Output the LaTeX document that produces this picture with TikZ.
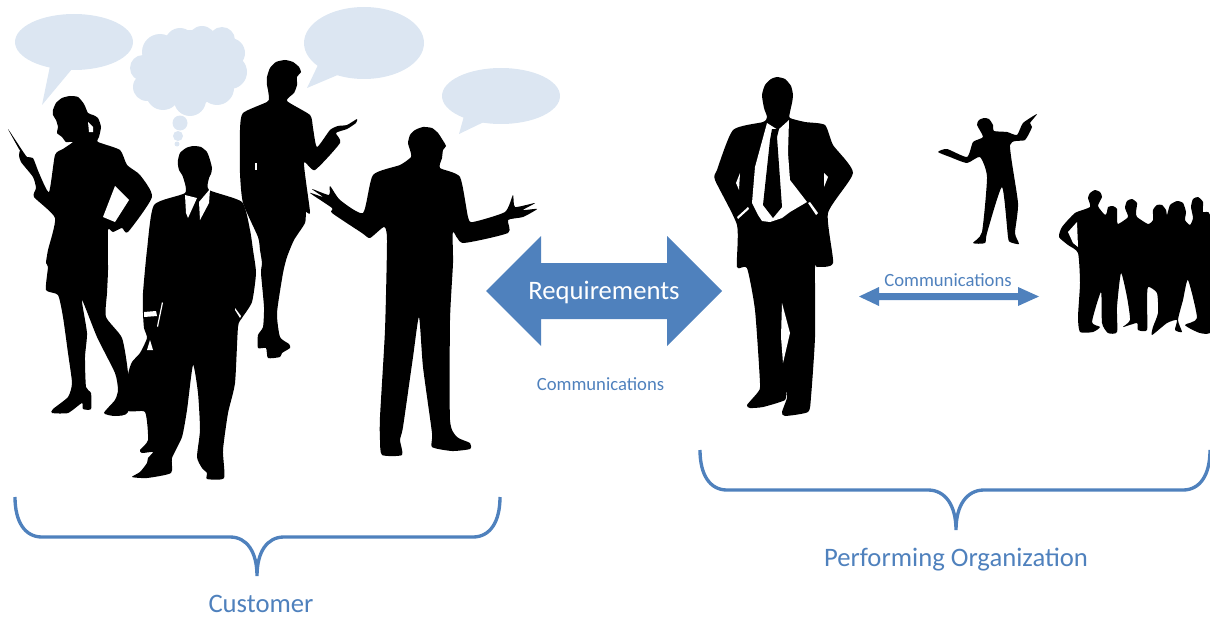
\documentclass[tikz,border=0pt]{standalone}
\usepackage{fontspec}
\setmainfont{Carlito}
\definecolor{bubble}{HTML}{DCE6F2}
\definecolor{accent}{HTML}{4F81BD}
\tikzset{
  gap/.style={fill=white,draw=none},
  talk/.style={fill=bubble,draw=none},
  bracket/.style={draw=accent,line width=2.5pt,fill=none},
  lbl/.style={text=accent,inner sep=0pt,anchor=center},
}
\newcommand{\silh}[1]{\fill[black] plot[smooth cycle,tension=0.35] coordinates {#1};}
\begin{document}
\begin{tikzpicture}[x=0.75pt,y=-0.75pt]
\useasboundingbox (0,0) rectangle (1210,617);
% speech bubbles
\fill[talk] (74,42) ellipse [x radius=59,y radius=28];
\fill[talk] (50,66) -- (42,105) -- (72,69) -- cycle;
\fill[talk] (364,43) ellipse [x radius=60,y radius=36];
\fill[talk] (318,65) -- (307,88) -- (340,74) -- cycle;
\fill[talk] (501,96) ellipse [x radius=59,y radius=28];
\fill[talk] (464,116) -- (459,134) -- (486,121) -- cycle;
% thought cloud
\foreach \cx/\cy/\r in {160/52/18,180/43/15,202/40/14,222/40/13,230/53/15,230/72/17,217/88/17,190/100/16,163/93/17,147/87/14,143/68/13,190/68/38,170/70/27,212/68/27,180/123/7.5,178/136/5,177/144/2.5}
  \fill[talk] (\cx,\cy) circle [radius=\r];
% woman at the back
\silh{(267,77) (270,68) (276,62) (285,60) (293,62) (299,67) (301,72) (297,77) (297,85) (294,93) (287,101) (310,115) (313,128) (317,147) (330,130) (338,126) (347,125) (357,119) (356,123) (347,129) (336,133) (340,143) (315,170) (304,163) (310,212) (306,212) (305,223) (294,240) (287,257) (283,273) (277,313) (280,337) (289,344) (290,348) (282,353) (280,357) (268,358) (266,348) (258,348) (258,335) (263,327) (264,307) (261,273) (262,263) (260,250) (258,237) (243,203) (240,173) (240,130) (243,113) (267,102) (269,98) (268,90) (267,85)}
% woman with phone
\silh{(8,129) (20,147) (27,157) (33,158) (39,173) (49,192) (55,155) (63,149) (73,142) (66,142) (62,137) (57,133) (58,127) (56,120) (53,115) (53,110) (56,103) (62,98) (70,96) (78,97) (84,104) (88,113) (93,115) (98,118) (101,127) (99,137) (98,142) (120,150) (127,165) (140,175) (152,197) (128,232) (122,228) (113,232) (108,230) (108,270) (107,293) (106,317) (122,338) (128,373) (128,412) (115,416) (104,413) (115,400) (118,390) (115,373) (97,337) (82,300) (87,333) (85,357) (86,387) (91,393) (91,409) (83,409) (82,403) (68,413) (52,413) (53,409) (68,397) (72,383) (68,353) (63,317) (58,295) (46,290) (48,267) (46,263) (48,250) (55,218) (34,197) (36,188) (33,177) (21,162) (19,155) (20,150) (19,149)}
% man with briefcase
\silh{(178,160) (180,153) (186,148) (193,146) (201,147) (207,152) (210,160) (212,168) (211,174) (209,178) (209,190) (242,202) (250,230) (253,250) (256,273) (252,302) (242,318) (238,327) (235,383) (228,413) (223,450) (224,478) (207,479) (207,473) (202,468) (197,457) (200,430) (198,393) (193,365) (187,410) (182,437) (172,458) (171,473) (147,478) (132,477) (140,472) (147,463) (148,458) (153,452) (142,453) (140,450) (148,440) (145,412) (127,410) (128,375) (132,362) (140,353) (147,338) (144,328) (143,313) (143,293) (147,250) (154,205) (185,193) (183,177) (179,170) (178,165)}
% gesturing man
\silh{(408,143) (410,135) (415,130) (423,127) (432,128) (438,133) (442,139) (446,146) (443,150) (442,158) (440,168) (460,177) (468,217) (473,222) (505,212) (513,195) (515,207) (535,203) (523,210) (537,209) (523,217) (508,220) (508,233) (463,243) (453,232) (453,263) (450,320) (450,420) (457,437) (470,443) (470,449) (452,451) (432,447) (432,433) (423,367) (419,317) (413,357) (403,427) (400,440) (402,455) (382,455) (380,440) (380,417) (385,330) (387,240) (384,227) (370,238) (362,233) (332,213) (332,208) (310,193) (323,197) (312,189) (329,195) (330,186) (340,200) (363,213) (373,175) (400,165) (411,157) (410,150)}
% manager
\silh{(762,95) (765,85) (771,79) (777,77) (785,79) (791,86) (793,95) (792,103) (790,112) (790,118) (805,122) (825,125) (833,145) (853,173) (828,213) (833,263) (817,267) (815,267) (815,337) (811,397) (808,412) (785,416) (782,412) (787,398) (786,390) (785,400) (763,407) (750,408) (747,405) (758,392) (760,383) (755,310) (747,268) (737,267) (737,225) (715,180) (717,170) (733,130) (763,122) (767,117) (764,108)}
% small man
\silh{(938,152) (947,149) (967,157) (973,142) (983,137) (977,125) (979,120) (984,118) (989,119) (993,125) (994,131) (1007,132) (1017,135) (1023,123) (1037,114) (1030,123) (1032,127) (1025,140) (1010,145) (1018,203) (1015,233) (1019,244) (1010,242) (1008,237) (1002,187) (987,233) (985,243) (973,243) (982,232) (987,177) (980,157) (967,163) (950,157)}
% group
\silh{(1088,198) (1090,193) (1095,190) (1100,192) (1102,197) (1098,206) (1105,215) (1107,212) (1108,207) (1113,206) (1117,209) (1117,218) (1118,224) (1128,217) (1125,208) (1127,201) (1132,199) (1137,203) (1136,212) (1137,217) (1148,224) (1153,220) (1153,210) (1157,205) (1162,205) (1166,210) (1167,215) (1170,205) (1177,201) (1183,203) (1186,212) (1185,220) (1190,225) (1193,218) (1191,207) (1193,199) (1198,197) (1203,202) (1203,212) (1210,215) (1212,270) (1212,330) (1200,333) (1185,325) (1197,318) (1188,280) (1183,300) (1178,320) (1182,332) (1175,330) (1177,320) (1167,323) (1152,335) (1153,327) (1158,313) (1157,293) (1148,287) (1147,303) (1147,330) (1138,330) (1137,323) (1123,327) (1130,320) (1127,297) (1121,273) (1117,307) (1117,332) (1108,333) (1102,323) (1101,292) (1092,322) (1100,327) (1093,332) (1080,332) (1078,317) (1080,283) (1078,253) (1068,245) (1059,237) (1062,227) (1075,213) (1090,207)}
% white details
\fill[gap] (103,217)--(115,186)--(129,200)--(115,222)--cycle;
\fill[gap] (88,122)--(93,127)--(93,132)--(89,132)--cycle;
\fill[gap] (185,195)--(197,198)--(188,218)--(186,213)--cycle;
\fill[gap] (210,189)--(209,203)--(200,220)--(199,202)--cycle;
\fill[gap] (144,312)--(156,311)--(157,316)--(144,317)--cycle;
\fill[gap] (162,302)--(163,303)--(158,327)--(157,326)--cycle;
\fill[gap] (235,308)--(241,316)--(240,318)--(235,310)--cycle;
\fill[gap] (147,350)--(150,340)--(153,350)--cycle;
\fill[gap] (255,163)--(257,163)--(257,170)--(255,170)--cycle;
\fill[gap] (767,123)--(755,167)--(752,203)--(758,215)--(762,221)--(770,222)--(782,218)--(790,212)--(807,202)--(790,180)--(788,153)--(789,120)--(778,130)--cycle;
\fill[black] (772,129)--(779,129)--(777,137)--(782,207)--(773,218)--(763,205)--(770,140)--cycle;
\fill[gap] (740,173)--(739,190)--(736,183)--cycle;
\fill[gap] (824,173)--(828,177)--(824,187)--cycle;
\fill[gap] (737,217)--(748,207)--(749,209)--(738,219)--cycle;
\fill[gap] (808,203)--(810,202)--(818,213)--(816,215)--cycle;
\fill[gap] (782,303)--(790,333)--(783,363)--(781,337)--cycle;
\fill[gap] (1068,232)--(1077,222)--(1078,247)--(1073,243)--cycle;
% big double arrow
\fill[accent] (486,291)--(541,236)--(541,263)--(667,263)--(667,236)--(722,291)--(667,346)--(667,319)--(541,319)--(541,346)--cycle;
\node[inner sep=0pt,text=white,font=\fontsize{20}{22}\selectfont] (req) at (604,292) {Requirements};
% small double arrow
\fill[accent] (859,296.5)--(879,287)--(879,293)--(1018,293)--(1018,287)--(1039,296.5)--(1018,306)--(1018,300)--(879,300)--(879,306)--cycle;
\node[lbl,font=\fontsize{14}{16}\selectfont] (comm2) at (948,280) {Communications};
\node[lbl,font=\fontsize{14}{16}\selectfont] (comm1) at (600.5,384) {Communications};
% brackets
\draw[bracket] (15,497) .. controls (15,522) and (25,537) .. (42,537) -- (230,537) .. controls (247,537) and (257,552) .. (257,576) .. controls (257,552) and (267,537) .. (284,537) -- (473,537) .. controls (490,537) and (500,522) .. (500,497);
\draw[bracket] (700,450) .. controls (700,475) and (710,490) .. (727,490) -- (928,490) .. controls (945,490) and (956,505) .. (956,530) .. controls (956,505) and (967,490) .. (984,490) -- (1183,490) .. controls (1200,490) and (1210,475) .. (1210,450);
\node[lbl,font=\fontsize{20}{22}\selectfont] (cust) at (261,604) {Customer};
\node[lbl,font=\fontsize{20}{22}\selectfont] (perf) at (956,560) {Performing Organization};
\end{tikzpicture}
\end{document}
